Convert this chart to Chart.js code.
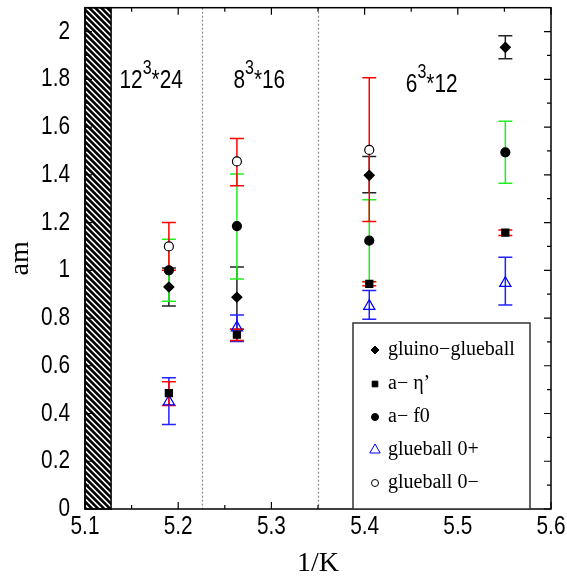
<!DOCTYPE html>
<html>
<head>
<meta charset="utf-8">
<script src="https://cdn.jsdelivr.net/npm/chart.js@4.4.0/dist/chart.umd.min.js"></script>
<style>
  html, body { margin: 0; padding: 0; background: #fff; }
  #wrap { width: 567px; height: 586px; }
</style>
</head>
<body>
<div id="wrap"><canvas id="chart" width="567" height="586"></canvas></div>
<script>
// 1/K values of the four runs
const invKappa = [5.19, 5.263, 5.405, 5.551];

// masses (am) with lower / upper ends of the error bars
const gluinoGlueball     = [0.93, 0.887, 1.398, 1.934];
const gluinoGlueballLow  = [0.85, 0.753, 1.325, 1.886];
const gluinoGlueballHigh = [1.01, 1.014, 1.477, 1.983];

const aEta     = [0.485, 0.73, 0.943, 1.158];
const aEtaLow  = [0.434, 0.706, 0.935, 1.146];
const aEtaHigh = [0.533, 0.753, 0.952, 1.169];

const aF0     = [1.0, 1.185, 1.124, 1.494];
const aF0Low  = [0.87, 0.964, 0.953, 1.365];
const aF0High = [1.13, 1.403, 1.295, 1.624];

const glueball0p     = [0.45, 0.76, 0.85, 0.946];
const glueball0pLow  = [0.354, 0.702, 0.795, 0.855];
const glueball0pHigh = [0.55, 0.813, 0.915, 1.055];

const glueball0m     = [1.1, 1.456, 1.504, null];
const glueball0mLow  = [1.0, 1.354, 1.204, null];
const glueball0mHigh = [1.2, 1.552, 1.807, null];

// lattice volumes written above each region
const latticeL = ['12', '8', '6'];
const latticeT = ['24', '16', '12'];

// region boundaries
const regionLines = [5.225, 5.35];
const hatchEnd = 5.128;

const xTicks = [5.1, 5.2, 5.3, 5.4, 5.5, 5.6];
const yTicks = [0, 0.2, 0.4, 0.6, 0.8, 1, 1.2, 1.4, 1.6, 1.8, 2];

const SANS = "'Liberation Sans', Arimo, sans-serif";
const SERIF = "'Liberation Serif', 'DejaVu Serif', serif";
const SQUEEZE = 0.8;   // the original uses a condensed sans face

const series = [
  { label: 'gluino\u2212glueball', values: gluinoGlueball, low: gluinoGlueballLow, high: gluinoGlueballHigh,
    pointStyle: 'rectRot', radius: 5, fill: '#000', stroke: '#000', err: '#222', legendRadius: 4 },
  { label: 'a\u2212 \u03b7\u2019', values: aEta, low: aEtaLow, high: aEtaHigh,
    pointStyle: 'rect', radius: 5, fill: '#000', stroke: '#000', err: '#ff0000', legendRadius: 4 },
  { label: 'a\u2212 f0', values: aF0, low: aF0Low, high: aF0High,
    pointStyle: 'circle', radius: 4.5, fill: '#000', stroke: '#000', err: '#22ee22', legendRadius: 3.5 },
  { label: 'glueball 0+', values: glueball0p, low: glueball0pLow, high: glueball0pHigh,
    pointStyle: 'triangle', radius: 6.5, fill: 'rgba(255,255,255,0)', stroke: '#0000ff', err: '#2222ff', legendRadius: 6 },
  { label: 'glueball 0\u2212', values: glueball0m, low: glueball0mLow, high: glueball0mHigh,
    pointStyle: 'circle', radius: 4.5, fill: '#fff', stroke: '#000', err: '#ff0000', legendRadius: 3.5 }
];

// error bars are drawn in this order (last one on top)
const errOrder = [0, 2, 3, 1, 4];

const datasets = series.map(s => ({
  label: s.label,
  data: invKappa.map((k, i) => s.values[i] === null ? null : { x: k, y: s.values[i] }).filter(p => p),
  pointStyle: s.pointStyle,
  pointRadius: s.radius,
  pointBackgroundColor: s.fill,
  pointBorderColor: s.stroke,
  pointBorderWidth: 1.2,
  showLine: false
}));

function narrowText(ctx, text, x, y, size, align, baseline) {
  ctx.save();
  ctx.translate(x, y);
  ctx.scale(SQUEEZE, 1);
  ctx.font = size + 'px ' + SANS;
  ctx.textAlign = align;
  ctx.textBaseline = baseline;
  ctx.fillText(text, 0, 0);
  ctx.restore();
}

function narrowWidth(ctx, text, size) {
  ctx.save();
  ctx.font = size + 'px ' + SANS;
  const w = ctx.measureText(text).width * SQUEEZE;
  ctx.restore();
  return w;
}

const decorPlugin = {
  id: 'decor',
  beforeDatasetsDraw(chart) {
    const { ctx, chartArea: a, scales: { x, y } } = chart;
    const h = a.bottom - a.top;

    // hatched band
    const hx0 = x.getPixelForValue(5.1), hx1 = x.getPixelForValue(hatchEnd);
    const w = hx1 - hx0;
    ctx.save();
    ctx.beginPath();
    ctx.rect(hx0, a.top, w, h);
    ctx.clip();
    ctx.strokeStyle = '#000';
    ctx.lineWidth = 2.6;
    for (let yy = a.top - w - 8; yy < a.bottom + 8; yy += 6) {
      ctx.beginPath();
      ctx.moveTo(hx0 - 2, yy - 2);
      ctx.lineTo(hx1 + 2, yy + w + 2);
      ctx.stroke();
    }
    ctx.restore();
    ctx.save();
    ctx.strokeStyle = '#000';
    ctx.lineWidth = 1.5;
    ctx.strokeRect(hx0, a.top, w, h);
    ctx.restore();

    // dotted region separators
    ctx.save();
    ctx.strokeStyle = '#888';
    ctx.lineWidth = 1.2;
    ctx.setLineDash([2, 2]);
    regionLines.forEach(v => {
      const px = Math.round(x.getPixelForValue(v)) + 0.5;
      ctx.beginPath();
      ctx.moveTo(px, a.top);
      ctx.lineTo(px, a.bottom);
      ctx.stroke();
    });
    ctx.restore();

    // error bars
    ctx.save();
    ctx.lineWidth = 1.5;
    errOrder.forEach(si => {
      const s = series[si];
      ctx.strokeStyle = s.err;
      invKappa.forEach((k, i) => {
        if (s.values[i] === null) return;
        const px = x.getPixelForValue(k);
        const pl = y.getPixelForValue(s.low[i]);
        const ph = y.getPixelForValue(s.high[i]);
        ctx.beginPath();
        ctx.moveTo(px, pl); ctx.lineTo(px, ph);
        ctx.moveTo(px - 7, pl); ctx.lineTo(px + 7, pl);
        ctx.moveTo(px - 7, ph); ctx.lineTo(px + 7, ph);
        ctx.stroke();
      });
    });
    ctx.restore();
  },
  afterDatasetsDraw(chart) {
    const { ctx, chartArea: a, scales: { x, y } } = chart;

    // frame
    ctx.save();
    ctx.strokeStyle = '#000';
    ctx.lineWidth = 1.5;
    ctx.strokeRect(a.left, a.top, a.right - a.left, a.bottom - a.top);

    // inward ticks, major and minor, on all four sides
    ctx.lineWidth = 1.2;
    ctx.beginPath();
    xTicks.forEach((v, i) => {
      const px = x.getPixelForValue(v);
      ctx.moveTo(px, a.bottom); ctx.lineTo(px, a.bottom - 7);
      ctx.moveTo(px, a.top); ctx.lineTo(px, a.top + 7);
      if (i < xTicks.length - 1) {
        const pm = x.getPixelForValue((v + xTicks[i + 1]) / 2);
        ctx.moveTo(pm, a.bottom); ctx.lineTo(pm, a.bottom - 4);
        ctx.moveTo(pm, a.top); ctx.lineTo(pm, a.top + 4);
      }
    });
    yTicks.forEach((v, i) => {
      const py = y.getPixelForValue(v);
      ctx.moveTo(a.left, py); ctx.lineTo(a.left + 7, py);
      ctx.moveTo(a.right, py); ctx.lineTo(a.right - 7, py);
      if (i < yTicks.length - 1) {
        const pm = y.getPixelForValue((v + yTicks[i + 1]) / 2);
        ctx.moveTo(a.left, pm); ctx.lineTo(a.left + 4, pm);
        ctx.moveTo(a.right, pm); ctx.lineTo(a.right - 4, pm);
      }
    });
    ctx.stroke();
    ctx.restore();

    // tick labels in a condensed face
    ctx.save();
    ctx.fillStyle = '#000';
    xTicks.forEach(v => narrowText(ctx, String(v), x.getPixelForValue(v), a.bottom + 18, 26, 'center', 'middle'));
    yTicks.forEach(v => narrowText(ctx, String(v), a.left - 15, y.getPixelForValue(v), 26, 'right', 'middle'));
    ctx.restore();

    // lattice volume labels
    const labelX = [5.171, 5.287, 5.472];
    const labelY = [1.762, 1.762, 1.745];
    ctx.save();
    ctx.fillStyle = '#000';
    latticeL.forEach((L, i) => {
      const main1 = L, sup = '3', main2 = '*' + latticeT[i];
      const w1 = narrowWidth(ctx, main1, 26);
      const w2 = narrowWidth(ctx, sup, 20);
      const w3 = narrowWidth(ctx, main2, 26);
      let px = x.getPixelForValue(labelX[i]) - (w1 + w2 + w3) / 2;
      const py = y.getPixelForValue(labelY[i]);
      narrowText(ctx, main1, px, py, 26, 'left', 'alphabetic');
      px += w1;
      narrowText(ctx, sup, px, py - 14, 20, 'left', 'alphabetic');
      px += w2;
      narrowText(ctx, main2, px, py, 26, 'left', 'alphabetic');
    });
    ctx.restore();

    // legend box inside the plot
    const box = { left: 353, top: 323, right: 530, bottom: a.bottom };
    ctx.save();
    ctx.fillStyle = '#fff';
    ctx.fillRect(box.left, box.top, box.right - box.left, box.bottom - box.top);
    ctx.strokeStyle = '#333';
    ctx.lineWidth = 1.5;
    ctx.strokeRect(box.left, box.top, box.right - box.left, box.bottom - box.top);
    const rowY = [350, 384, 417, 450, 483];
    series.forEach((s, i) => {
      ctx.fillStyle = s.fill;
      ctx.strokeStyle = s.stroke;
      ctx.lineWidth = 1;
      Chart.helpers.drawPoint(ctx, { pointStyle: s.pointStyle, radius: s.legendRadius, borderWidth: 1, rotation: 0 }, 375, rowY[i]);
      ctx.fillStyle = '#000';
      ctx.font = '20px ' + SERIF;
      ctx.textBaseline = 'middle';
      ctx.fillText(s.label, 388, rowY[i]);
    });
    ctx.restore();
  }
};

new Chart(document.getElementById('chart'), {
  type: 'scatter',
  data: { datasets },
  options: {
    responsive: false,
    animation: false,
    layout: { padding: { top: 1, right: 16, left: 0, bottom: 0 } },
    plugins: { legend: { display: false }, tooltip: { enabled: false } },
    scales: {
      x: {
        type: 'linear',
        min: 5.1,
        max: 5.6,
        afterBuildTicks: s => { s.ticks = xTicks.map(v => ({ value: v })); },
        afterFit: s => { s.height = 77; s.paddingLeft = 0; s.paddingRight = 0; },
        grid: { display: false, drawTicks: false },
        border: { display: false },
        ticks: { display: false },
        title: {
          display: true, text: '1/K', color: '#000',
          font: { family: SERIF, size: 28 },
          padding: { top: 0, bottom: 6 }
        }
      },
      y: {
        type: 'linear',
        min: 0,
        max: 2.1,
        afterBuildTicks: s => { s.ticks = yTicks.map(v => ({ value: v })); },
        afterFit: s => { s.width = 85; s.paddingTop = 0; s.paddingBottom = 0; },
        grid: { display: false, drawTicks: false },
        border: { display: false },
        ticks: { display: false },
        title: {
          display: true, text: 'am', color: '#000',
          font: { family: SERIF, size: 28 },
          padding: { top: 4, bottom: 0 }
        }
      }
    }
  },
  plugins: [decorPlugin]
});
</script>
</body>
</html>
